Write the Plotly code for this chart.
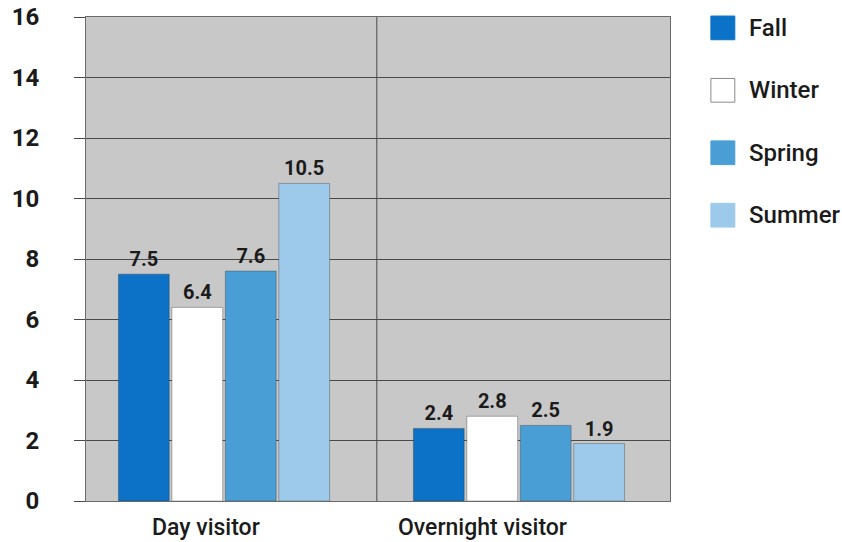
import plotly.graph_objects as go

categories = ["Day visitor", "Overnight visitor"]
seasons = ["Fall", "Winter", "Spring", "Summer"]
values = {
    "Fall": [7.5, 2.4],
    "Winter": [6.4, 2.8],
    "Spring": [7.6, 2.5],
    "Summer": [10.5, 1.9],
}
colors = {
    "Fall": "#0b72c8",
    "Winter": "#ffffff",
    "Spring": "#4a9ed6",
    "Summer": "#9dcaea",
}
y_ticks = [0, 2, 4, 6, 8, 10, 12, 14, 16]

FONT = "Roboto"
TXT = "#1b1b1b"
group_pos = list(range(len(categories)))

fig = go.Figure()
for s in seasons:
    fig.add_trace(go.Bar(
        name=s, x=group_pos, y=values[s],
        marker=dict(color=colors[s], line=dict(color="rgba(50,50,50,0.35)", width=1)),
        text=[f"{v:.1f}" for v in values[s]], textposition="outside",
        textfont=dict(family=FONT, size=20, color=TXT, weight="bold"),
        cliponaxis=False, showlegend=False,
    ))

# divider between the two category groups
fig.add_shape(type="line", xref="x", yref="paper", x0=0.518, x1=0.518, y0=0, y1=1,
              line=dict(color="#4a4a4a", width=1))

# category labels
for pos, cat, shift in zip(group_pos, categories, [-18, -36]):
    fig.add_annotation(x=pos, y=0, xref="x", yref="y", yshift=-11, xshift=shift,
                       text=cat, showarrow=False, yanchor="top",
                       font=dict(family=FONT, size=23, color=TXT, weight=500))

# legend drawn as swatches and labels
for i, s in enumerate(seasons):
    y0 = 1.002 - i * 0.129
    fig.add_shape(type="rect", xref="paper", yref="paper",
                  x0=1.070, x1=1.111, y0=y0 - 0.049, y1=y0,
                  fillcolor=colors[s], line=dict(color="#8a8a8a" if s == "Winter" else colors[s], width=1))
    fig.add_annotation(xref="paper", yref="paper", x=1.131, y=y0 - 0.0245,
                       text=s, showarrow=False, xanchor="left", yanchor="middle",
                       font=dict(family=FONT, size=24, color=TXT, weight=500))

fig.update_layout(
    width=842, height=542,
    margin=dict(l=86, r=172, t=17, b=41, autoexpand=False),
    paper_bgcolor="white", plot_bgcolor="#c8c8c8",
    barmode="group", bargap=0.275, bargroupgap=0.05,
    font=dict(family=FONT, color=TXT),
)
fig.update_xaxes(range=[-0.468, 1.512], showticklabels=False, showgrid=False, showline=True,
                 linecolor="#6a6a6a", linewidth=1, mirror=True, ticks="", zeroline=False,
                 automargin=False)
fig.update_yaxes(range=[0, 16], tickvals=y_ticks, showgrid=True, gridcolor="#4a4a4a",
                 gridwidth=1, ticks="outside", ticklen=11, tickcolor="#4a4a4a",
                 ticklabelstandoff=30, zeroline=False, automargin=False,
                 tickfont=dict(family=FONT, size=24, color=TXT, weight="bold"),
                 showline=True, linecolor="#6a6a6a", mirror=True)

fig.write_html("out.html")
